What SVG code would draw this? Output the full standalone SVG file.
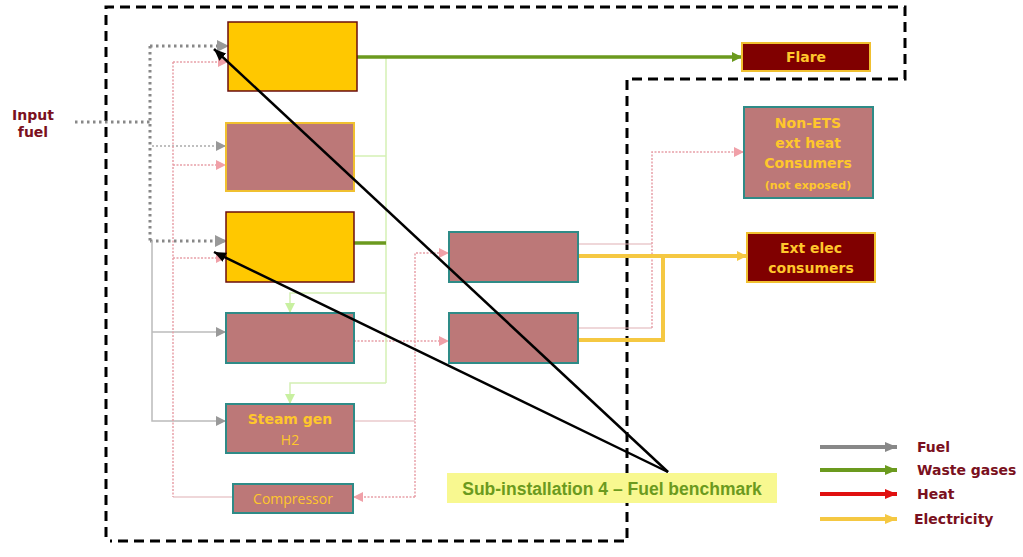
<svg xmlns="http://www.w3.org/2000/svg" width="1023" height="557" viewBox="0 0 1023 557">
<style>
.b{font-family:"DejaVu Sans",Verdana,sans-serif;font-weight:bold;fill:#FFC72C;text-anchor:middle}
.fd{fill:none;stroke:#888;stroke-width:3;stroke-dasharray:2.5 3.5}
.fl{fill:none;stroke:#aaa;stroke-width:1.5;stroke-dasharray:2 2}
.fs{fill:none;stroke:#bbb;stroke-width:1.5}
.h{fill:none;stroke:#E8A0A8;stroke-width:1.5;stroke-dasharray:2 1.5}
.hs{fill:none;stroke:#E0B0B4;stroke-width:1.2}
.wg{fill:none;stroke:#6B9A1E;stroke-width:3.5}
.lg{fill:none;stroke:#D4F0B4;stroke-width:1.5}
.el{fill:none;stroke:#F5C842;stroke-width:4}
.bk{fill:none;stroke:#000;stroke-width:2.5}
.mauve{fill:#BC7878;stroke:#2E8B87;stroke-width:2}
.leg{font-family:"DejaVu Sans",Verdana,sans-serif;font-weight:bold;font-size:14px;fill:#7A1020}
</style>
<defs>
<marker id="ag" markerUnits="userSpaceOnUse" markerWidth="12" markerHeight="12" refX="10" refY="6" orient="auto"><path d="M0,1 L10,6 L0,11 Z" fill="#999"/></marker>
<marker id="agb" markerUnits="userSpaceOnUse" markerWidth="14" markerHeight="14" refX="12" refY="7" orient="auto"><path d="M0,1 L12,7 L0,13 Z" fill="#999"/></marker>
<marker id="ap" markerUnits="userSpaceOnUse" markerWidth="12" markerHeight="12" refX="10" refY="6" orient="auto"><path d="M0,1 L10,6 L0,11 Z" fill="#F0A0A8"/></marker>
<marker id="aw" markerUnits="userSpaceOnUse" markerWidth="12" markerHeight="12" refX="10" refY="6" orient="auto"><path d="M0,1 L10,6 L0,11 Z" fill="#6B9A1E"/></marker>
<marker id="al" markerUnits="userSpaceOnUse" markerWidth="12" markerHeight="12" refX="10" refY="6" orient="auto"><path d="M0,1 L10,6 L0,11 Z" fill="#C8F0A0"/></marker>
<marker id="ae" markerUnits="userSpaceOnUse" markerWidth="12" markerHeight="12" refX="10" refY="6" orient="auto"><path d="M0,1 L10,6 L0,11 Z" fill="#F5C842"/></marker>
<marker id="ab" markerUnits="userSpaceOnUse" markerWidth="14" markerHeight="14" refX="12" refY="7" orient="auto"><path d="M0,2 L12,7 L0,12 Z" fill="#000"/></marker>
<marker id="lgy" markerUnits="userSpaceOnUse" markerWidth="14" markerHeight="14" refX="12" refY="7" orient="auto"><path d="M0,2 L12,7 L0,12 Z" fill="#888"/></marker>
<marker id="lgg" markerUnits="userSpaceOnUse" markerWidth="14" markerHeight="14" refX="12" refY="7" orient="auto"><path d="M0,2 L12,7 L0,12 Z" fill="#6B9A1E"/></marker>
<marker id="lgr" markerUnits="userSpaceOnUse" markerWidth="14" markerHeight="14" refX="12" refY="7" orient="auto"><path d="M0,2 L12,7 L0,12 Z" fill="#E01010"/></marker>
<marker id="lgl" markerUnits="userSpaceOnUse" markerWidth="14" markerHeight="14" refX="12" refY="7" orient="auto"><path d="M0,2 L12,7 L0,12 Z" fill="#F5C842"/></marker>
</defs>
<rect width="1023" height="557" fill="#fff"/>
<g id="boundary">
<path d="M106,537 L106,7 L905,7 L905,79 L627,79 L627,541 L110,541" fill="none" stroke="#000" stroke-width="3" stroke-dasharray="10 6"/>
</g>
<g id="connectors">
<path class="fd" d="M75,122 L150,122"/>
<path class="fd" d="M150,46 L150,241"/>
<path class="fd" d="M150,46 L229,46" marker-end="url(#agb)"/>
<path class="fd" d="M150,241 L227,241" marker-end="url(#agb)"/>
<path class="fl" d="M152,146 L226,146" marker-end="url(#ag)"/>
<path class="fs" d="M152,241 L152,421 L226,421" marker-end="url(#ag)"/>
<path class="fs" d="M152,332 L226,332" marker-end="url(#ag)"/>
<path class="h" d="M173,62 L173,497"/>
<path class="h" d="M173,62 L228,62" marker-end="url(#ap)"/>
<path class="h" d="M173,165 L226,165" marker-end="url(#ap)"/>
<path class="h" d="M173,258 L226,258" marker-end="url(#ap)"/>
<path class="hs" d="M173,497 L233,497"/>
<path class="h" d="M354,341 L449,341" marker-end="url(#ap)"/>
<path class="hs" d="M354,421 L415,421"/>
<path class="h" d="M415,497 L415,253 L449,253" marker-end="url(#ap)"/>
<path class="h" d="M415,497 L353,497" marker-end="url(#ap)"/>
<path class="hs" d="M578,244 L652,244"/>
<path class="hs" d="M578,328 L652,328"/>
<path class="h" d="M652,328 L652,152 L744,152" marker-end="url(#ap)"/>
<path class="lg" d="M386,57 L386,383"/>
<path class="lg" d="M354,156 L386,156"/>
<path class="lg" d="M386,293 L290,293 L290,313" marker-end="url(#al)"/>
<path class="lg" d="M386,383 L290,383 L290,404" marker-end="url(#al)"/>
<path class="wg" d="M357,57 L742,57" stroke-width="3" marker-end="url(#aw)"/>
<path class="wg" d="M354,243 L386,243" stroke-width="4.5"/>
<path class="el" d="M578,256 L747,256" marker-end="url(#ae)"/>
<path class="el" d="M578,340 L663,340 L663,256"/>
</g>
<g id="n1"><rect x="228" y="22" width="129" height="69" fill="#FFC800" stroke="#6B0E0E" stroke-width="1.5"/></g>
<g id="n2"><rect x="226" y="123" width="128" height="68" fill="#BC7878" stroke="#F0C030" stroke-width="2"/></g>
<g id="n3"><rect x="226" y="212" width="128" height="70" fill="#FFC800" stroke="#6B0E0E" stroke-width="1.5"/></g>
<g id="n4"><rect class="mauve" x="226" y="313" width="128" height="50"/></g>
<g id="n5"><rect class="mauve" x="226" y="404" width="128" height="49"/>
<text class="b" x="290" y="424" font-size="14">Steam gen</text>
<text x="290" y="445" font-family="'Open Sans',sans-serif" font-size="14" fill="#FFC72C" text-anchor="middle">H2</text></g>
<g id="n6"><rect class="mauve" x="233" y="484" width="120" height="29"/>
<text x="293" y="504" font-family="'Open Sans',sans-serif" font-size="14" fill="#FFC72C" text-anchor="middle">Compressor</text></g>
<g id="n7"><rect class="mauve" x="449" y="232" width="129" height="50"/></g>
<g id="n8"><rect class="mauve" x="449" y="313" width="129" height="50"/></g>
<g id="flare"><rect x="742" y="43" width="128" height="28" fill="#800000" stroke="#F0C030" stroke-width="2"/>
<text class="b" x="806" y="62" font-size="14">Flare</text></g>
<g id="nonets"><rect class="mauve" x="744" y="107" width="129" height="91"/>
<text class="b" x="808" y="128" font-size="14">Non-ETS</text>
<text class="b" x="808" y="148" font-size="14">ext heat</text>
<text class="b" x="808" y="168" font-size="14">Consumers</text>
<text class="b" x="808" y="189" font-size="11">(not exposed)</text></g>
<g id="extelec"><rect x="747" y="233" width="128" height="49" fill="#800000" stroke="#F0C030" stroke-width="2"/>
<text class="b" x="811" y="253" font-size="14">Ext elec</text>
<text class="b" x="811" y="273" font-size="14">consumers</text></g>
<g id="input"><text class="leg" x="33" y="120" text-anchor="middle" font-size="14">Input</text>
<text class="leg" x="33" y="137" text-anchor="middle" font-size="14">fuel</text></g>
<g id="pointers">
<path class="bk" d="M668,472 L214,49" marker-end="url(#ab)"/>
<path class="bk" d="M668,472 L214,252" marker-end="url(#ab)"/>
</g>
<g id="label"><rect x="447" y="473" width="330" height="30" fill="#F8F890"/>
<text x="612" y="495" font-family="'Liberation Sans',Arial,sans-serif" font-weight="bold" font-size="17.5" fill="#6B9A1E" text-anchor="middle">Sub-installation 4 – Fuel benchmark</text></g>
<g id="legend">
<path d="M820,447 L897,447" stroke="#888" stroke-width="4" marker-end="url(#lgy)"/>
<path d="M820,470 L897,470" stroke="#6B9A1E" stroke-width="4" marker-end="url(#lgg)"/>
<path d="M820,494 L897,494" stroke="#E01010" stroke-width="4" marker-end="url(#lgr)"/>
<path d="M820,519 L897,519" stroke="#F5C842" stroke-width="4" marker-end="url(#lgl)"/>
<text class="leg" x="917" y="452">Fuel</text>
<text class="leg" x="917" y="475">Waste gases</text>
<text class="leg" x="917" y="499">Heat</text>
<text class="leg" x="914" y="524">Electricity</text>
</g>
</svg>
